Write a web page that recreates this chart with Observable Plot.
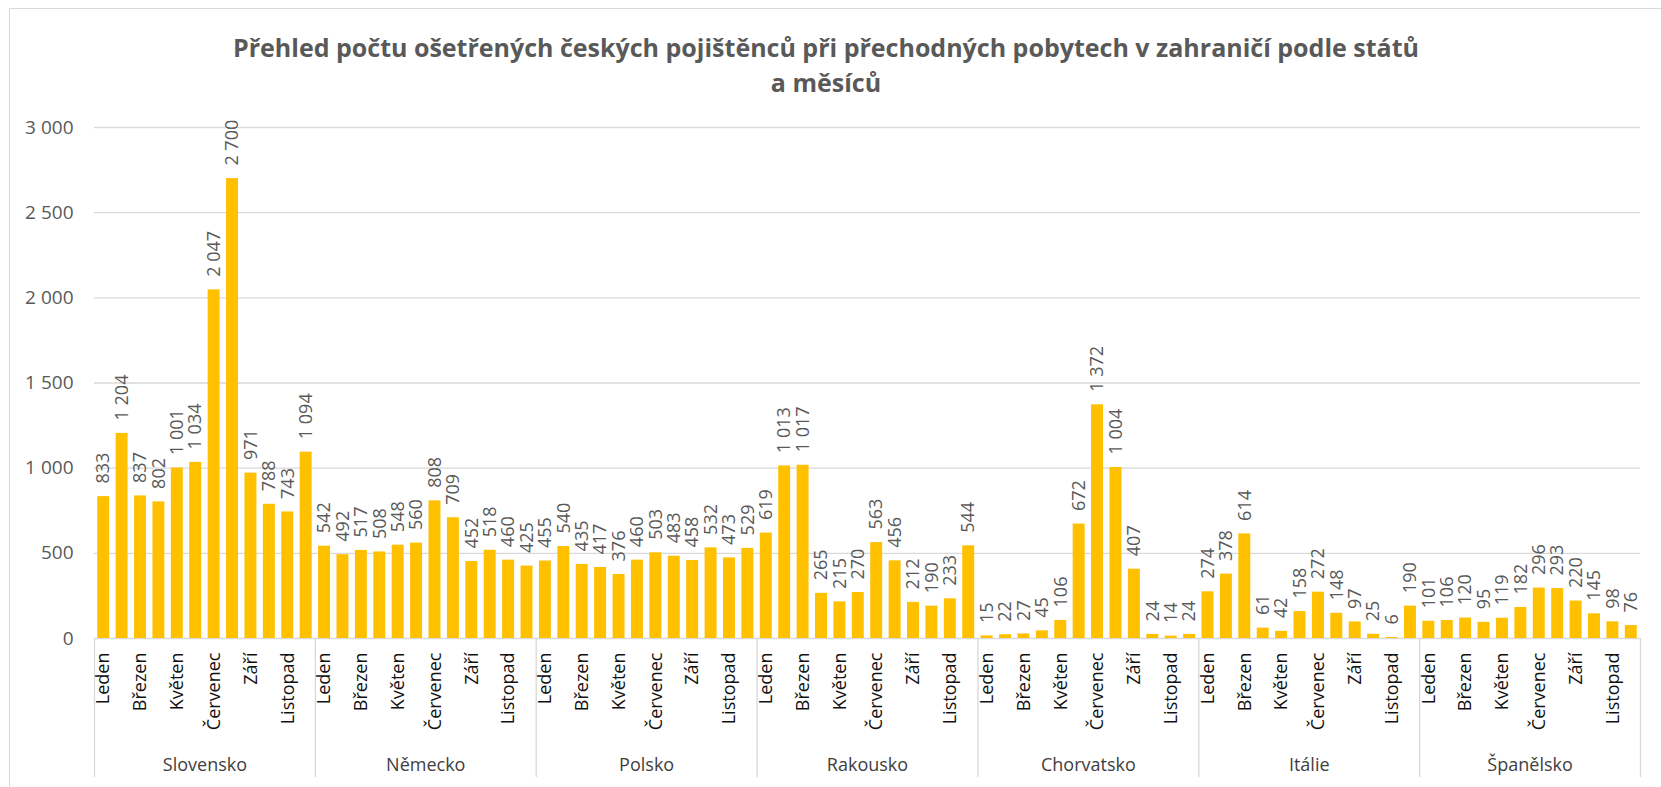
<!DOCTYPE html>
<html>
<head>
<meta charset="utf-8">
<script src="https://cdn.jsdelivr.net/npm/d3@7"></script>
<script src="https://cdn.jsdelivr.net/npm/@observablehq/plot@0.6"></script>
<style>
  body { margin: 0; background: #fff; }
  #wrap { position: relative; width: 1661px; height: 787px; overflow: hidden; font-family: "Open Sans", sans-serif; background: #fff; }
  #frame { position: absolute; left: 9px; top: 8px; width: 1700px; height: 900px; border: 1px solid #d9d9d9; box-sizing: border-box; }
  #title { position: absolute; left: 0; top: 30px; width: 1652px; text-align: center; font-weight: bold; font-size: 25px; line-height: 35px; color: #595959; }
  #chart { position: absolute; left: 0; top: 110px; }
</style>
</head>
<body>
<div id="wrap">
  <div id="frame"></div>
  <div id="title">Přehled počtu ošetřených českých pojištěnců při přechodných pobytech v zahraničí podle států<br>a měsíců</div>
  <div id="chart"></div>
</div>
<script>
const months = ["Leden","Únor","Březen","Duben","Květen","Červen","Červenec","Srpen","Září","Říjen","Listopad","Prosinec"];
const countries = ["Slovensko","Německo","Polsko","Rakousko","Chorvatsko","Itálie","Španělsko"];

const slovensko  = [833, 1204, 837, 802, 1001, 1034, 2047, 2700, 971, 788, 743, 1094];
const nemecko    = [542, 492, 517, 508, 548, 560, 808, 709, 452, 518, 460, 425];
const polsko     = [455, 540, 435, 417, 376, 460, 503, 483, 458, 532, 473, 529];
const rakousko   = [619, 1013, 1017, 265, 215, 270, 563, 456, 212, 190, 233, 544];
const chorvatsko = [15, 22, 27, 45, 106, 672, 1372, 1004, 407, 24, 14, 24];
const italie     = [274, 378, 614, 61, 42, 158, 272, 148, 97, 25, 6, 190];
const spanelsko  = [101, 106, 120, 95, 119, 182, 296, 293, 220, 145, 98, 76];

const yTicks = [0, 500, 1000, 1500, 2000, 2500, 3000];

const series = [slovensko, nemecko, polsko, rakousko, chorvatsko, italie, spanelsko];
const rows = countries.flatMap((c, ci) => series[ci].map((v, mi) => ({country: c, month: months[mi], mi, pos: ci * 12 + mi, value: v})));
const shownMonths = rows.filter(d => d.mi % 2 === 0);
const groups = countries.map((c, ci) => ({country: c, center: ci * 12 + 6}));
const bounds = countries.map((c, ci) => ci * 12).concat([countries.length * 12]);

const locale = d3.formatLocale({decimal: ",", thousands: " ", grouping: [3], currency: ["", ""]});
const fmt = locale.format(",");

const chart = Plot.plot({
  width: 1661,
  height: 677,
  marginTop: 17,
  marginBottom: 149,
  marginLeft: 94,
  marginRight: 21,
  style: {fontFamily: "Open Sans", fontSize: "19px", color: "#595959", background: "transparent", overflow: "visible"},
  x: {domain: [0, months.length * countries.length], axis: null},
  y: {domain: [0, 3000], ticks: yTicks, tickSize: 0, tickPadding: 21, tickFormat: fmt, label: null},
  marks: [
    Plot.ruleY(yTicks, {stroke: "#d9d9d9", strokeWidth: 1.3}),
    Plot.rect(rows, {x1: d => d.pos + 0.175, x2: d => d.pos + 0.825, y1: () => 0, y2: "value", fill: "#FFC000"}),
    Plot.text(rows, {x: d => d.pos + 0.5, y: "value", text: d => fmt(d.value), rotate: -90, textAnchor: "start", dy: -13, fontSize: 18, fill: "#595959"}),
    Plot.ruleX(bounds, {x: d => d, y1: () => 0, y2: () => 0, insetBottom: -139, stroke: "#d9d9d9", strokeWidth: 1.3}),
    Plot.text(shownMonths, {x: d => d.pos + 0.5, y: () => 0, text: "month", rotate: -90, textAnchor: "end", dy: 14, fontSize: 18, fill: "#111"}),
    Plot.text(groups, {x: "center", y: () => 0, text: "country", dy: 127, fontSize: 18, fill: "#404040"})
  ]
});
document.getElementById("chart").appendChild(chart);
</script>
</body>
</html>
